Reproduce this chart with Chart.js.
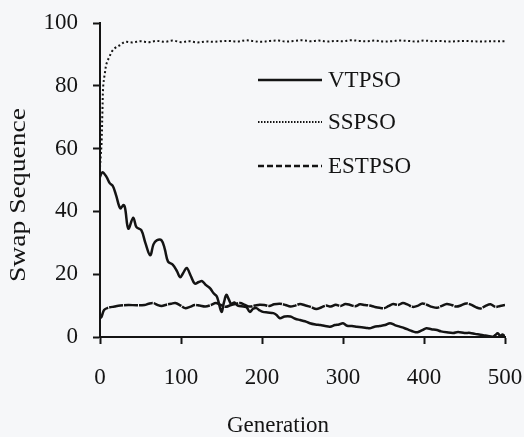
<!DOCTYPE html>
<html>
<head>
<meta charset="utf-8">
<script src="https://cdn.jsdelivr.net/npm/chart.js@4.4.1/dist/chart.umd.min.js"></script>
<style>
  html, body { margin: 0; padding: 0; background: #f6f7f9; }
  #wrap { width: 524px; height: 437px; }
</style>
</head>
<body>
<div id="wrap"><canvas id="swapChart" width="524" height="437"></canvas></div>
<script>
// VTPSO: swap sequence length per generation
let vtGen = [0, 3, 8, 12, 16, 20, 25, 29, 31, 35, 41, 45, 51, 56, 62, 66, 70, 76, 80, 84, 90, 95, 99, 103, 107, 112, 117, 122, 126, 131, 136, 140, 144, 146, 150, 153, 156, 159, 162, 166, 170, 177, 181, 185, 189, 193, 197, 201, 207, 214, 218, 222, 228, 235, 241, 247, 253, 259, 266, 272, 278, 284, 290, 295, 300, 305, 311, 317, 323, 329, 333, 338, 345, 352, 358, 364, 370, 376, 382, 387, 392, 398, 403, 409, 416, 421, 428, 436, 442, 450, 457, 463, 468, 473, 479, 485, 488, 491, 494, 497, 500];
let vtVal = [51, 52.5, 51, 49, 48, 45, 41, 42, 41, 34.5, 38, 35, 34, 30, 26, 29.5, 30.8, 30.8, 28, 24, 23, 21, 19, 20.5, 22, 19.5, 17, 17.5, 17.8, 16.5, 15.5, 14, 13, 11.5, 8, 11, 13.4, 12, 10.5, 11, 10, 9.7, 9.5, 8, 9, 9.2, 8.5, 8, 7.8, 7.6, 7, 6, 6.5, 6.5, 5.8, 5.4, 5, 4.4, 4, 3.8, 3.5, 3.3, 3.8, 4, 4.4, 3.6, 3.5, 3.3, 3.1, 2.9, 2.8, 3.2, 3.5, 3.8, 4.4, 3.8, 3.3, 2.8, 2.2, 1.7, 1.5, 2.2, 2.8, 2.5, 2.2, 1.8, 1.5, 1.3, 1.6, 1.3, 1.3, 1.0, 0.8, 0.6, 0.3, 0.1, 0.6, 1.2, 0.4, 0.8, 0.2];

// SSPSO
let ssGen = [0, 1, 2, 3, 4, 6, 8, 12, 16, 20, 25, 31, 40, 50, 60, 70, 80, 90, 100, 110, 120, 130, 140, 150, 160, 170, 180, 190, 200, 210, 220, 230, 240, 250, 260, 270, 280, 290, 300, 310, 320, 330, 340, 350, 360, 370, 380, 390, 400, 410, 420, 430, 440, 450, 460, 470, 480, 490, 500];
let ssVal = [54, 58, 62, 72, 80, 84, 87, 89.5, 91.4, 92.3, 93, 94, 93.8, 94.2, 93.9, 94.3, 94, 94.4, 93.9, 94.2, 93.8, 94.1, 94, 94.2, 94.3, 94.1, 94.5, 94.2, 94, 94.3, 94.4, 94.1, 94.3, 94.5, 94.2, 94.4, 94.1, 94.3, 94.2, 94.5, 94.3, 94.2, 94.4, 94.1, 94.2, 94.4, 94.3, 94.1, 94.4, 94.2, 94.3, 94.1, 94.2, 94.3, 94.2, 94.1, 94.2, 94.2, 94.2];

// ESTPSO
let esGen = [0, 2, 5, 10, 18, 25, 35, 45, 55, 60, 66, 71, 76, 82, 88, 93, 99, 105, 111, 117, 123, 130, 137, 143, 149, 155, 161, 167, 173, 179, 185, 191, 197, 203, 209, 215, 222, 229, 235, 241, 247, 253, 260, 267, 273, 279, 285, 291, 297, 303, 309, 315, 321, 327, 333, 339, 345, 351, 356, 362, 368, 374, 380, 386, 392, 398, 404, 410, 416, 422, 428, 434, 440, 446, 452, 458, 464, 470, 476, 482, 488, 494, 500];
let esVal = [6, 6.5, 8.6, 9.3, 9.7, 10, 10.2, 10.1, 10.2, 10.6, 10.8, 10.2, 9.9, 10.3, 10.6, 10.8, 10.1, 9.2, 9.6, 10.2, 10, 9.7, 10.2, 10.8, 10.2, 9.6, 10.1, 10.5, 10.8, 10.2, 9.7, 10, 10.3, 10.2, 9.9, 10.4, 10.6, 10.2, 9.7, 10, 10.5, 10.1, 9.6, 8.9, 9.4, 10, 9.7, 10.3, 9.9, 10.5, 10.2, 9.8, 10.4, 10.2, 10, 9.6, 9.3, 9.2, 9.8, 10.5, 10.2, 10.8, 10.3, 9.6, 9.9, 10.7, 10.2, 9.6, 9.3, 9.9, 10.5, 10.2, 9.7, 10.1, 10.7, 10.3, 9.5, 9.1, 9.9, 10.4, 9.6, 9.9, 10.2];

let xTicks = [0, 100, 200, 300, 400, 500];
let yTicks = [0, 20, 40, 60, 80, 100];

const ink = "#141414";
const serif = "'Liberation Serif', 'DejaVu Serif', serif";

function pts(gen, val){
    return gen.map((g, i) => ({ x: g, y: val[i] }));
}

// legend sits inside the plot, drawn by hand so the samples can be long
const legendPlugin = {
    id: "innerLegend",
    afterDraw(chart){
        let ctx = chart.ctx;
        let rows = [
            { label: "VTPSO", dash: [], width: 2.5, y: 80 },
            { label: "SSPSO", dash: [1.5, 1.5], width: 1.8, y: 122 },
            { label: "ESTPSO", dash: [6, 3], width: 2.5, y: 166 }
        ];
        ctx.save();
        ctx.strokeStyle = ink;
        ctx.fillStyle = ink;
        ctx.font = "23px " + serif;
        ctx.textBaseline = "middle";
        rows.forEach(r => {
            ctx.beginPath();
            ctx.lineWidth = r.width;
            ctx.setLineDash(r.dash);
            ctx.moveTo(258, r.y);
            ctx.lineTo(322, r.y);
            ctx.stroke();
            ctx.fillText(r.label, 328, r.y + 1);
        });
        ctx.setLineDash([]);

        // axis titles
        ctx.textAlign = "center";
        ctx.textBaseline = "alphabetic";
        ctx.fillText("Generation", 278, 432);

        ctx.translate(25, 195);
        ctx.rotate(-Math.PI / 2);
        ctx.scale(1.2, 1);
        ctx.fillText("Swap Sequence", 0, 0);
        ctx.restore();
    }
};

function noEdgePad(s){
    s.paddingTop = 0;
    s.paddingBottom = 0;
    s.paddingLeft = 0;
    s.paddingRight = 0;
}

let chart = new Chart(document.getElementById("swapChart"), {
    type: "line",
    data: {
        datasets: [
            {
                label: "VTPSO",
                data: pts(vtGen, vtVal),
                borderColor: ink,
                borderWidth: 2.5,
                tension: 0.35,
                pointRadius: 0
            },
            {
                label: "SSPSO",
                data: pts(ssGen, ssVal),
                borderColor: ink,
                borderWidth: 2,
                borderDash: [2, 2.5],
                tension: 0.35,
                pointRadius: 0
            },
            {
                label: "ESTPSO",
                data: pts(esGen, esVal),
                borderColor: ink,
                borderWidth: 2.5,
                borderDash: [14, 1],
                tension: 0.35,
                pointRadius: 0
            }
        ]
    },
    options: {
        responsive: false,
        animation: false,
        layout: { padding: { top: 23, right: 19, left: 0, bottom: 0 } },
        plugins: {
            legend: { display: false },
            tooltip: { enabled: false }
        },
        scales: {
            x: {
                type: "linear",
                min: 0,
                max: 500,
                afterBuildTicks: s => { s.ticks = xTicks.map(v => ({ value: v })); },
                afterFit: s => { s.height = 100; noEdgePad(s); },
                border: { color: ink, width: 2 },
                grid: { drawOnChartArea: false, tickLength: 7, tickColor: ink, tickWidth: 2 },
                ticks: { color: ink, padding: 20, maxRotation: 0, font: { family: serif, size: 23 } }
            },
            y: {
                min: 0,
                max: 100,
                afterBuildTicks: s => { s.ticks = yTicks.map(v => ({ value: v })); },
                afterFit: s => { s.width = 100; noEdgePad(s); },
                border: { color: ink, width: 2 },
                grid: { drawOnChartArea: false, tickLength: 7, tickColor: ink, tickWidth: 2 },
                ticks: { color: ink, padding: 15, font: { family: serif, size: 23 } }
            }
        }
    },
    plugins: [legendPlugin]
});
</script>
</body>
</html>
